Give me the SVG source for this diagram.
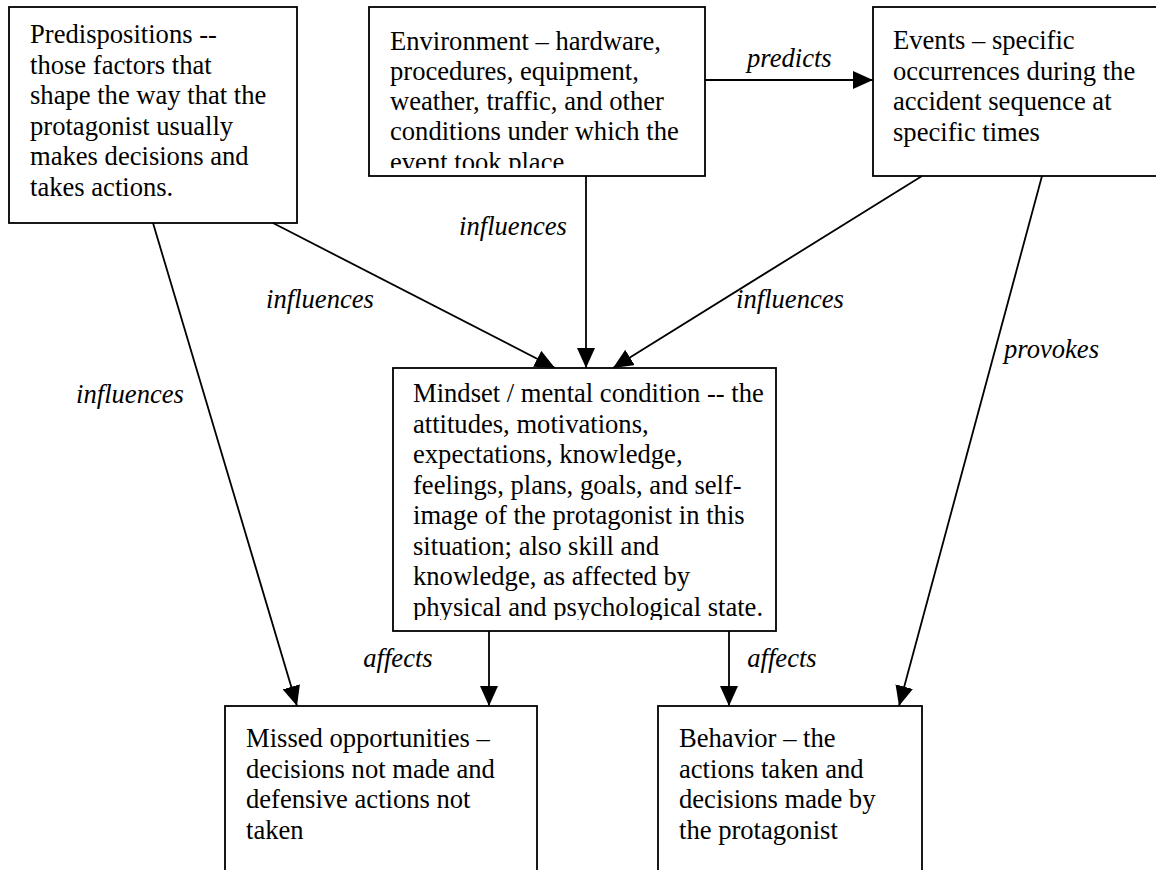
<svg xmlns="http://www.w3.org/2000/svg" width="1156" height="870" viewBox="0 0 1156 870">
<style>
text{font-family:"Liberation Serif","Times New Roman",serif;font-size:26.6px;fill:#000}
.lbl{font-style:italic}
.box{fill:#fff;stroke:#000;stroke-width:1.8}
.edge{stroke:#000;stroke-width:1.8;fill:none;marker-end:url(#ah)}
</style>
<defs>
<marker id="ah" markerUnits="userSpaceOnUse" markerWidth="20" markerHeight="18" refX="20" refY="9" orient="auto">
<path d="M0,0 L20,9 L0,18 z" fill="#000"/>
</marker>
<clipPath id="clipEnv"><rect x="369" y="7" width="336" height="161"/></clipPath>
<clipPath id="clipMind"><rect x="393" y="368" width="383" height="252"/></clipPath>
</defs>
<rect width="1156" height="870" fill="#fff"/>

<g id="predispositions">
<rect class="box" x="9" y="7" width="288" height="216"/>
<text x="30" y="43">Predispositions --</text>
<text x="30" y="73.6">those factors that</text>
<text x="30" y="104.2">shape the way that the</text>
<text x="30" y="134.8">protagonist usually</text>
<text x="30" y="165.4">makes decisions and</text>
<text x="30" y="196">takes actions.</text>
</g>

<g id="environment">
<rect class="box" x="369" y="7" width="336" height="169"/>
<g clip-path="url(#clipEnv)">
<text x="390" y="49.5">Environment – hardware,</text>
<text x="390" y="79.8">procedures, equipment,</text>
<text x="390" y="110.1">weather, traffic, and other</text>
<text x="390" y="140.4">conditions under which the</text>
<text x="390" y="170.7">event took place</text>
</g>
</g>

<g id="events">
<rect class="box" x="873" y="7" width="300" height="169"/>
<text x="893" y="49">Events – specific</text>
<text x="893" y="79.6">occurrences during the</text>
<text x="893" y="110.2">accident sequence at</text>
<text x="893" y="140.8">specific times</text>
</g>

<g id="mindset">
<rect class="box" x="393" y="368" width="383" height="263"/>
<g clip-path="url(#clipMind)">
<text x="413" y="402">Mindset / mental condition -- the</text>
<text x="413" y="432.5">attitudes, motivations,</text>
<text x="413" y="463">expectations, knowledge,</text>
<text x="413" y="493.5">feelings, plans, goals, and self-</text>
<text x="413" y="524">image of the protagonist in this</text>
<text x="413" y="554.5">situation; also skill and</text>
<text x="413" y="585">knowledge, as affected by</text>
<text x="413" y="615.5">physical and psychological state.</text>
</g>
</g>

<g id="missed">
<rect class="box" x="225" y="706" width="312" height="200"/>
<text x="246" y="747">Missed opportunities –</text>
<text x="246" y="777.5">decisions not made and</text>
<text x="246" y="808">defensive actions not</text>
<text x="246" y="838.5">taken</text>
</g>

<g id="behavior">
<rect class="box" x="658" y="706" width="264" height="200"/>
<text x="679" y="747">Behavior – the</text>
<text x="679" y="777.5">actions taken and</text>
<text x="679" y="808">decisions made by</text>
<text x="679" y="838.5">the protagonist</text>
</g>

<g id="connectors">
<path class="edge" d="M705,80 L873,80"/>
<path class="edge" d="M586,176 L586,368"/>
<path class="edge" d="M273,223 L555,368"/>
<path class="edge" d="M922,176 L613,368"/>
<path class="edge" d="M153,223 L297,706"/>
<path class="edge" d="M1042,176 L899,706"/>
<path class="edge" d="M489,631 L489,706"/>
<path class="edge" d="M729,631 L729,706"/>
<text class="lbl" x="747" y="67">predicts</text>
<text class="lbl" x="513" y="235" text-anchor="middle">influences</text>
<text class="lbl" x="320" y="308" text-anchor="middle">influences</text>
<text class="lbl" x="790" y="308" text-anchor="middle">influences</text>
<text class="lbl" x="130" y="403" text-anchor="middle">influences</text>
<text class="lbl" x="1004" y="358">provokes</text>
<text class="lbl" x="398" y="667" text-anchor="middle">affects</text>
<text class="lbl" x="782" y="667" text-anchor="middle">affects</text>
</g>
</svg>
